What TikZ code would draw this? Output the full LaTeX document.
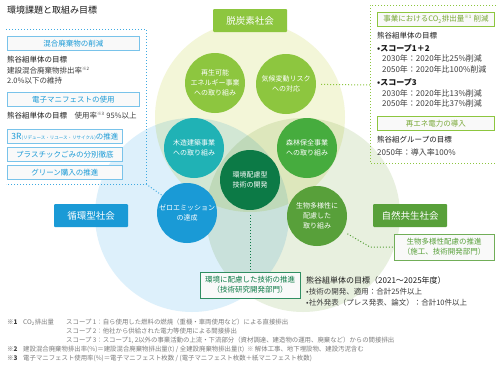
\documentclass[tikz,border=0pt]{standalone}
\usepackage{fontspec}
\setmainfont{Noto Sans CJK JP}
\usetikzlibrary{
  arrows.meta,
  positioning,
  calc
}
\definecolor{decarb}{RGB}{141,198,63}
\definecolor{recycle}{RGB}{26,154,214}
\definecolor{nature}{RGB}{88,160,58}
\definecolor{wood}{RGB}{32,178,181}
\definecolor{forest}{RGB}{70,172,62}
\definecolor{techgreen}{RGB}{12,122,70}
\definecolor{decarbbg}{RGB}{243,246,216}
\definecolor{recyclebg}{RGB}{221,240,251}
\definecolor{naturebg}{RGB}{232,240,223}
\definecolor{framblue}{RGB}{64,170,225}
\definecolor{ink}{RGB}{60,60,60}
\definecolor{headink}{RGB}{25,25,25}
\definecolor{notegray}{RGB}{125,125,125}

\begin{document}
\begin{tikzpicture}[
  x=1pt, y=-1pt,
  every node/.style={font=\fontsize{7.5}{10}\selectfont, text=ink, inner sep=0pt},
  society/.style={rounded corners=1pt, minimum width=74pt, minimum height=23pt,
                text=white, font=\fontsize{9.5}{11}\selectfont},
  theme/.style={circle, minimum size=60pt, text=white, align=center,
                font=\fontsize{7}{10}\selectfont},
  goalbox/.style={draw, fill=gray!5, line width=0.8pt, minimum height=14pt, align=center},
  bodytext/.style={anchor=west, align=left},
  headtext/.style={anchor=west, text=headink},
  notetext/.style={anchor=west, text=notegray, font=\fontsize{6.4}{7}\selectfont},
  notemark/.style={anchor=west, text=ink, font=\fontsize{6.4}{7}\selectfont\bfseries},
  link/.style={dotted, line width=1pt}
]

\fill[white] (0,0) rectangle (500,367);
\useasboundingbox (0,0) rectangle (500,367);

\begin{scope}[blend group=multiply]
\fill[decarbbg] (250,117) circle (95);
\fill[recyclebg] (192,215) circle (97);
\fill[naturebg] (303,215) circle (97);
\end{scope}

\node[headtext, font=\fontsize{9}{10}\selectfont] (title) at (7,10) {環境課題と取組み目標};

\node[society, fill=decarb] (decarbsoc) at (250,20.5) {脱炭素社会};
\node[society, fill=recycle] (recyclesoc) at (91,215.5) {循環型社会};
\node[society, fill=nature] (naturesoc) at (410,215.5) {自然共生社会};

\node[theme, fill=decarb] (renew) at (215,83) {再生可能\\エネルギー事業\\への取り組み};
\node[theme, fill=decarb] (climate) at (286,84) {気候変動リスク\\への対応};
\node[theme, fill=wood] (woodwork) at (194,148) {木造建築事業\\への取り組み};
\node[theme, fill=forest] (forestry) at (307,148) {森林保全事業\\への取り組み};
\node[theme, fill=techgreen] (tech) at (250,180) {環境配慮型\\技術の開発};
\node[theme, fill=recycle] (zero) at (187,213) {ゼロエミッション\\の達成};
\node[theme, fill=nature] (bio) at (317,216) {生物多様性に\\配慮した\\取り組み};

% left goals
\draw[link, framblue] (6,29) -- (146,29) -- (146,184) -- (6,184);
\coordinate (lcorner) at (146,184);
\draw[link, framblue] (lcorner) -- (zero);

\node[goalbox, draw=framblue!70, text=recycle, anchor=north west, minimum width=132pt] (mixed) at (7,36) {混合廃棄物の削減};
\node[headtext] (mixedgoal) at (7,60) {熊谷組単体の目標};
\node[bodytext] (mixedrate) at (7,71) {建設混合廃棄物排出率\textsuperscript{\fontsize{4.5}{5}\selectfont ※2}};
\node[bodytext] (mixedval) at (7,81) {2.0\%以下の維持};
\node[goalbox, draw=framblue!70, text=recycle, anchor=north west, minimum width=132pt] (manifest) at (7,92) {電子マニフェストの使用};
\node[bodytext] (manifestgoal) at (7,116) {{\color{headink}熊谷組単体の目標}\quad 使用率\textsuperscript{\fontsize{4.5}{5}\selectfont ※3} 95\%以上};
\node[goalbox, draw=framblue!70, text=recycle, anchor=north west, minimum width=115pt] (threer) at (7,129)
  {{\fontsize{8.5}{10}\selectfont 3R}{\fontsize{4.5}{5}\selectfont (リデュース・リユース・リサイクル)}の推進};
\node[goalbox, draw=framblue!70, text=recycle, anchor=north west, minimum width=115pt] (plastic) at (7,147) {プラスチックごみの分別徹底};
\node[goalbox, draw=framblue!70, text=recycle, anchor=north west, minimum width=115pt] (green) at (7,165) {グリーン購入の推進};

% right goals
\draw[link, decarb] (496,5) -- (370,5) -- (370,163) -- (496,163);
\coordinate (rjoin) at (370,85);
\draw[link, decarb, shorten <=5pt] (climate) -- (rjoin);

\node[goalbox, draw=decarb, text=decarb!85!black, anchor=north west, minimum width=117pt] (co2) at (377,12)
  {事業におけるCO\textsubscript{2}排出量\textsuperscript{\fontsize{4.5}{5}\selectfont ※1} 削減};
\node[headtext] (co2goal) at (377,36) {熊谷組単体の目標};
\node[headtext, font=\fontsize{8}{10}\selectfont\bfseries] (scope12) at (377,48) {\textbullet スコープ1＋2};
\node[bodytext, font=\fontsize{8}{10}\selectfont] (scope12a) at (382,58) {2030年：2020年比25\%削減};
\node[bodytext, font=\fontsize{8}{10}\selectfont] (scope12b) at (382,69) {2050年：2020年比100\%削減};
\node[headtext, font=\fontsize{8}{10}\selectfont\bfseries] (scope3) at (377,82) {\textbullet スコープ3};
\node[bodytext, font=\fontsize{8}{10}\selectfont] (scope3a) at (382,93) {2030年：2020年比13\%削減};
\node[bodytext, font=\fontsize{8}{10}\selectfont] (scope3b) at (382,103) {2050年：2020年比37\%削減};
\node[goalbox, draw=decarb, text=decarb!85!black, anchor=north west, minimum width=117pt] (renewpower) at (377,116) {再エネ電力の導入};
\node[headtext] (groupgoal) at (377,140) {熊谷組グループの目標};
\node[bodytext, font=\fontsize{8}{10}\selectfont] (groupval) at (377,152) {2050年：導入率100\%};

% bottom goals
\node[goalbox, draw=techgreen!85, text=techgreen, minimum width=100pt, minimum height=26pt] (techbox) at (250,285)
  {環境に配慮した技術の推進\\（技術研究開発部門）};
\draw[link, techgreen, shorten <=5pt] (tech) -- (techbox);

\node[goalbox, draw=nature!85, text=nature, minimum width=100pt, minimum height=26pt] (biobox) at (444,247)
  {生物多様性配慮の推進\\（施工、技術開発部門）};
\coordinate (biobend) at (370,247);
\draw[link, nature, shorten <=5pt] (bio) -- (biobend) -- (biobox);

\node[headtext, font=\fontsize{8}{10}\selectfont] (techgoal) at (306,280) {熊谷組単体の目標（2021～2025年度）};
\node[bodytext] (techgoala) at (306,292) {\textbullet 技術の開発、適用：合計25件以上};
\node[bodytext] (techgoalb) at (306,303) {\textbullet 社外発表（プレス発表、論文）：合計10件以上};

% notes
\node[notemark] (note1) at (7,322) {※1};
\node[notetext] (note1a) at (23,322) {CO\textsubscript{2}排出量};
\node[notetext] (scopeone) at (66,322) {スコープ 1：自ら使用した燃料の燃焼（重機・車両使用など）による直接排出};
\node[notetext] (scopetwo) at (66,331) {スコープ 2：他社から供給された電力等使用による間接排出};
\node[notetext] (scopethree) at (66,340) {スコープ 3：スコープ1, 2以外の事業活動の上流・下流部分（資材調達、建造物の運用、廃棄など）からの間接排出};
\node[notemark] (note2) at (7,349) {※2};
\node[notetext] (note2a) at (23,349) {建設混合廃棄物排出率(\%)＝建設混合廃棄物排出量(t) / 全建設廃棄物排出量(t)\ \ ※ 解体工事、地下埋設物、建設汚泥含む};
\node[notemark] (note3) at (7,358) {※3};
\node[notetext] (note3a) at (23,358) {電子マニフェスト使用率(\%)＝電子マニフェスト枚数 / (電子マニフェスト枚数＋紙マニフェスト枚数)};

\end{tikzpicture}
\end{document}
